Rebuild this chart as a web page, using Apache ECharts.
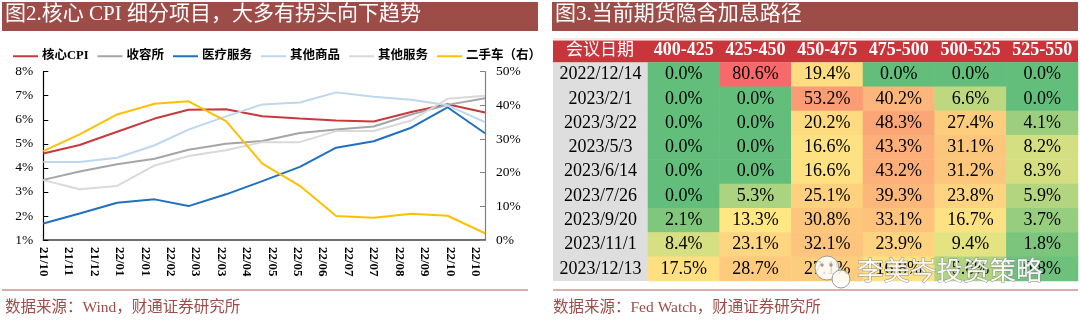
<!DOCTYPE html>
<html>
<head>
<meta charset="utf-8">
<script src="https://cdn.jsdelivr.net/npm/echarts@6/dist/echarts.min.js"></script>
<style>
  html, body { margin: 0; padding: 0; background: #fff; }
  #chart { width: 1080px; height: 322px; }
</style>
</head>
<body>
<div id="chart"></div>
<script>
// ---- Core CPI components (monthly, YoY %) ----
const months = ['2021-10-31','2021-11-30','2021-12-31','2022-01-31','2022-02-28','2022-03-31',
                '2022-04-30','2022-05-31','2022-06-30','2022-07-31','2022-08-31','2022-09-30','2022-10-31'];
const coreCpi   = [4.6, 4.95, 5.5, 6.05, 6.42, 6.44, 6.15, 6.05, 5.97, 5.93, 6.32, 6.65, 6.3];
const shelter   = [3.5, 3.85, 4.15, 4.38, 4.75, 5.0, 5.12, 5.45, 5.6, 5.72, 6.22, 6.62, 6.9];
const medical   = [1.69, 2.1, 2.55, 2.69, 2.41, 2.9, 3.45, 4.04, 4.84, 5.11, 5.67, 6.52, 5.44];
const otherGoods = [4.24, 4.24, 4.42, 4.94, 5.59, 6.14, 6.64, 6.72, 7.14, 6.96, 6.83, 6.6, 5.9];
const otherServices = [3.49, 3.11, 3.25, 4.1, 4.49, 4.73, 5.07, 5.07, 5.53, 5.53, 5.97, 6.87, 7.0];
const usedCars  = [26.4, 31.4, 37.3, 40.5, 41.2, 35.3, 22.7, 16.1, 7.1, 6.6, 7.8, 7.2, 2.0];
const seriesNames = ['核心CPI', '收容所', '医疗服务', '其他商品', '其他服务', '二手车（右）'];
// date-axis labels, one every 21 days starting from the first month end
const xTickLabels = ['21/10','21/11','21/12','22/01','22/01','22/02','22/03','22/03','22/04',
                     '22/05','22/05','22/06','22/07','22/07','22/08','22/09','22/10','22/10'];

// ---- Fed funds futures implied path (probabilities, %) ----
const meetings = ['2022/12/14','2023/2/1','2023/3/22','2023/5/3','2023/6/14','2023/7/26','2023/9/20','2023/11/1','2023/12/13'];
const buckets = ['400-425','425-450','450-475','475-500','500-525','525-550'];
const b400 = [0.0, 0.0, 0.0, 0.0, 0.0, 0.0, 2.1, 8.4, 17.5];
const b425 = [80.6, 0.0, 0.0, 0.0, 0.0, 5.3, 13.3, 23.1, 28.7];
const b450 = [19.4, 53.2, 20.2, 16.6, 16.6, 25.1, 30.8, 32.1, 27.1];
const b475 = [0.0, 40.2, 48.3, 43.3, 43.2, 39.3, 33.1, 23.9, 16.8];
const b500 = [0.0, 6.6, 27.4, 31.1, 31.2, 23.8, 16.7, 9.4, 5.6];
const b525 = [0.0, 0.0, 4.1, 8.2, 8.3, 5.9, 3.7, 1.8, 0.8];

const SERIF = '"Liberation Serif","Times New Roman","Noto Sans CJK SC",serif';
const CJK = '"Liberation Serif","Noto Sans CJK SC",sans-serif';
const BRICK = '#9E4C48';

function dayOffset(s) { return (Date.parse(s) - Date.parse(months[0])) / 86400000; }
function pts(arr) { return months.map((m, i) => [dayOffset(m), arr[i]]); }

// three-colour scale: green (min) -> yellow (median) -> red (max)
const cols = [b400, b425, b450, b475, b500, b525];
const allVals = cols.flat().slice().sort((a, b) => a - b);
const n = allVals.length;
const vMin = allVals[0], vMax = allVals[n - 1];
const vMid = n % 2 ? allVals[(n - 1) / 2] : (allVals[n / 2 - 1] + allVals[n / 2]) / 2;
function mix(c1, c2, t) {
  const r = Math.round(c1[0] + (c2[0] - c1[0]) * t);
  const g = Math.round(c1[1] + (c2[1] - c1[1]) * t);
  const b = Math.round(c1[2] + (c2[2] - c1[2]) * t);
  return 'rgb(' + r + ',' + g + ',' + b + ')';
}
const GREEN = [99, 190, 123], YELLOW = [255, 235, 132], RED = [248, 105, 107];
function scaleColor(v) {
  if (v <= vMid) return mix(GREEN, YELLOW, vMid === vMin ? 1 : (v - vMin) / (vMid - vMin));
  return mix(YELLOW, RED, (v - vMid) / (vMax - vMid));
}
const heatData = [];
cols.forEach((col, xi) => col.forEach((v, yi) => {
  heatData.push({ value: [xi, yi, v], itemStyle: { color: scaleColor(v) } });
}));

const lineColors = ['#C9383D', '#A5A5A5', '#2070C0', '#BDD7EE', '#D9D9D9', '#FFC000'];
const lineData = [coreCpi, shelter, medical, otherGoods, otherServices, usedCars];

const chart = echarts.init(document.getElementById('chart'), null, { renderer: 'canvas' });
chart.setOption({
  animation: false,
  textStyle: { fontFamily: CJK },
  legend: {
    left: 8, top: 45, itemWidth: 25, itemHeight: 2, itemGap: 9, icon: 'rect',
    data: seriesNames,
    textStyle: { fontSize: 12.5, color: '#000', fontFamily: CJK, fontWeight: 'bold', padding: [0, 0, 0, -1] }
  },
  grid: [
    { left: 43.3, right: 595, top: 71.7, bottom: 82 },
    { left: 648, right: 2, top: 62.5, bottom: 41 }
  ],
  xAxis: [
    {
      gridIndex: 0, type: 'value', min: 0, max: 365, interval: 21,
      axisLine: { lineStyle: { color: '#404040', width: 1.5 } },
      axisTick: { show: false }, splitLine: { show: false },
      axisLabel: {
        rotate: -90, margin: 7, showMaxLabel: false,
        fontFamily: SERIF, fontSize: 13, fontWeight: 'bold', color: '#000',
        formatter: v => (v % 21 === 0 ? (xTickLabels[Math.round(v / 21)] || '') : '')
      }
    },
    {
      gridIndex: 1, type: 'category', data: buckets, position: 'top',
      axisLine: { show: false }, axisTick: { show: false }, splitLine: { show: false },
      axisLabel: { interval: 0, color: '#fff', fontFamily: SERIF, fontSize: 18, fontWeight: 'bold', margin: 3 }
    }
  ],
  yAxis: [
    {
      gridIndex: 0, type: 'value', min: 1, max: 8, interval: 1,
      axisLine: { show: true, lineStyle: { color: '#000', width: 1.2 } },
      axisTick: { show: true, inside: true, length: 5, lineStyle: { color: '#000' } },
      splitLine: { show: false },
      axisLabel: { formatter: '{value}%', fontFamily: SERIF, fontSize: 13.5, color: '#000', margin: 10 }
    },
    {
      gridIndex: 0, type: 'value', min: 0, max: 50, interval: 10, position: 'right',
      axisLine: { show: true, lineStyle: { color: '#808080', width: 1.2 } },
      axisTick: { show: true, inside: true, length: 5, lineStyle: { color: '#808080' } },
      splitLine: { show: false },
      axisLabel: { formatter: '{value}%', fontFamily: SERIF, fontSize: 13.5, color: '#000', margin: 11 }
    },
    {
      gridIndex: 1, type: 'category', data: meetings, inverse: true,
      axisLine: { show: false }, axisTick: { show: false }, splitLine: { show: false },
      axisLabel: { interval: 0, align: 'center', margin: 47.5, fontFamily: SERIF, fontSize: 18, color: '#000' }
    }
  ],
  series: lineData.map((d, i) => ({
    name: seriesNames[i], type: 'line', xAxisIndex: 0, yAxisIndex: i === 5 ? 1 : 0,
    data: pts(d), showSymbol: false, symbol: 'none',
    lineStyle: { color: lineColors[i], width: 2 }, itemStyle: { color: lineColors[i] },
    z: 2 + i
  })).concat([{
    type: 'heatmap', xAxisIndex: 1, yAxisIndex: 2, data: heatData,
    label: {
      show: true, fontFamily: SERIF, fontSize: 18, color: '#000',
      formatter: p => p.value[2].toFixed(1) + '%'
    },
    itemStyle: { borderWidth: 0 },
    emphasis: { disabled: true }
  }]),
  graphic: [
    // title bars
    { type: 'rect', z: -1, shape: { x: 2, y: 2, width: 536, height: 29 }, style: { fill: BRICK } },
    { type: 'text', x: 5, y: 4, style: { text: '图2.核心 CPI 细分项目，大多有拐头向下趋势', fill: '#fff', font: '21px ' + CJK } },
    { type: 'rect', z: -1, shape: { x: 552, y: 2, width: 526, height: 29 }, style: { fill: BRICK } },
    { type: 'text', x: 555, y: 4, style: { text: '图3.当前期货隐含加息路径', fill: '#fff', font: '21px ' + CJK } },
    // table frame: header band and date column
    { type: 'line', shape: { x1: 553, y1: 39, x2: 1078, y2: 39 }, style: { stroke: '#F3D3D3', lineWidth: 1 } },
    { type: 'rect', z: -1, shape: { x: 553, y: 40.5, width: 525, height: 22 }, style: { fill: '#C8363B' } },
    { type: 'text', x: 566, y: 42, style: { text: '会议日期', fill: '#fff', font: '17px ' + CJK } },
    { type: 'rect', z: -1, shape: { x: 553, y: 62.5, width: 95, height: 218.5 }, style: { fill: '#DEDEDE' } },
    // footers
    { type: 'line', shape: { x1: 2, y1: 290, x2: 528, y2: 290 }, style: { stroke: '#B4605B', lineWidth: 1.2 } },
    { type: 'text', x: 5, y: 300, style: { text: '数据来源：Wind，财通证券研究所', fill: BRICK, font: '15.5px ' + CJK } },
    { type: 'line', shape: { x1: 553, y1: 290, x2: 1078, y2: 290 }, style: { stroke: '#B4605B', lineWidth: 1.2 } },
    { type: 'text', x: 553, y: 300, style: { text: '数据来源：Fed Watch，财通证券研究所', fill: BRICK, font: '15.5px ' + CJK } },
    // account mark over the last table row
    { type: 'circle', z: 100, shape: { cx: 827, cy: 268, r: 12 }, style: { fill: 'rgba(255,255,255,0.85)', stroke: '#9a9a9a', lineWidth: 1 } },
    { type: 'circle', z: 101, shape: { cx: 841, cy: 279, r: 9 }, style: { fill: 'rgba(255,255,255,0.85)', stroke: '#9a9a9a', lineWidth: 1 } },
    { type: 'circle', z: 102, shape: { cx: 822, cy: 265, r: 1.7 }, style: { fill: '#9a9a9a' } },
    { type: 'circle', z: 102, shape: { cx: 831, cy: 265, r: 1.7 }, style: { fill: '#9a9a9a' } },
    { type: 'text', z: 103, x: 857, y: 257, style: { text: '李美岑投资策略', fill: 'rgba(255,255,255,0.92)', stroke: '#8c8c8c', lineWidth: 1, font: '26.5px "Noto Sans CJK SC",sans-serif' } }
  ]
});
</script>
</body>
</html>
